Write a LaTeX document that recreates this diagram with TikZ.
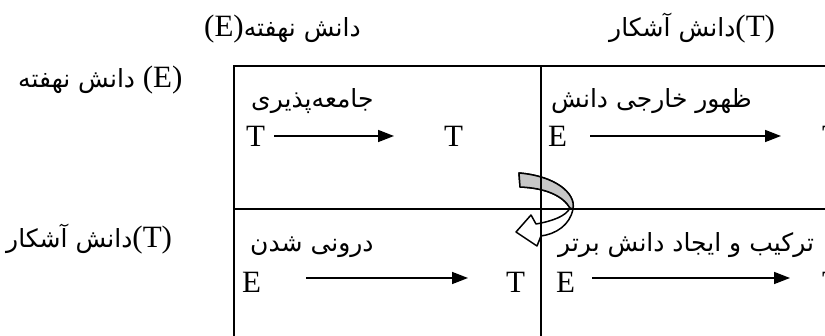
\documentclass[tikz,border=0pt]{standalone}
\usepackage{fontspec}
\setmainfont{Liberation Serif}
\newfontfamily\farsifont[Script=Arabic]{DejaVu Sans}
\TeXXeTstate=1
\usetikzlibrary{arrows.meta}
\newcommand\pertext[1]{{\farsifont\fontsize{25}{30}\selectfont\beginR #1\endR}}
\begin{document}
\begin{tikzpicture}[x=1pt,y=-1pt,
  lat/.style={inner sep=0pt, anchor=base west, font=\fontsize{31}{36}\selectfont},
  per/.style={inner sep=0pt, anchor=base west, font=\farsifont\fontsize{25}{30}\selectfont},
  arr/.style={line width=1.6pt, -{Triangle[length=16pt,width=12pt]}},
  gridline/.style={line width=1.6pt},
  blockarrow/.style={line width=1.5pt, line join=round}]
\useasboundingbox (0,0) rectangle (825,336);

% headers and row labels
\node[lat] (h1) at (204,37) {(E)\pertext{دانش نهفته}};
\node[lat] (h2) at (609,37) {\pertext{دانش آشکار}(T)};
\node[lat] (r1) at (18,88) {\pertext{دانش نهفته} (E)};
\node[lat] (r2) at (6,248) {\pertext{دانش آشکار}(T)};

% curved block arrow (drawn below the grid)
\draw[blockarrow, fill=white] (519,173) .. controls (555,176) and (576,193) .. (573,209)
   .. controls (570,225) and (556,234) .. (541,236) -- (537,246) -- (516,232)
   -- (531,215) -- (536,224) .. controls (553,221) and (566,216) .. (570,208)
   .. controls (563,196) and (546,188) .. (520,187) -- cycle;
\draw[blockarrow, fill=black!22] (519,173) .. controls (555,176) and (576,193) .. (573,209)
   -- (570,208) .. controls (563,196) and (546,188) .. (520,187) -- cycle;

% grid
\draw[gridline] (825,66) -- (234,66) -- (234,336);
\draw[gridline] (541,66) -- (541,336);
\draw[gridline] (234,209) -- (825,209);

% cell 1: socialization
\node[per] (c1) at (251,108) {\beginR جامعه‌پذیری\endR};
\node[lat] (a1) at (246,147) {T};
\node[lat] (b1) at (444,147) {T};
\coordinate (a1s) at (274,136);
\coordinate (a1e) at (394,136);
\draw[arr] (a1s) -- (a1e);

% cell 2: externalization
\node[per] (c2) at (551,108) {\beginR ظهور خارجی دانش\endR};
\node[lat] (a2) at (548,147) {E};
\node[lat] (b2) at (822,147) {T};
\coordinate (a2s) at (590,136);
\coordinate (a2e) at (781,136);
\draw[arr] (a2s) -- (a2e);

% cell 3: internalization
\node[per] (c3) at (250,252) {\beginR درونی شدن\endR};
\node[lat] (a3) at (242,293) {E};
\node[lat] (b3) at (506,293) {T};
\coordinate (a3s) at (306,278);
\coordinate (a3e) at (468,278);
\draw[arr] (a3s) -- (a3e);

% cell 4: combination
\node[per] (c4) at (558,252) {\beginR ترکیب و ایجاد دانش برتر\endR};
\node[lat] (a4) at (556,293) {E};
\node[lat] (b4) at (822,293) {T};
\coordinate (a4s) at (592,278);
\coordinate (a4e) at (790,278);
\draw[arr] (a4s) -- (a4e);
\end{tikzpicture}
\end{document}
